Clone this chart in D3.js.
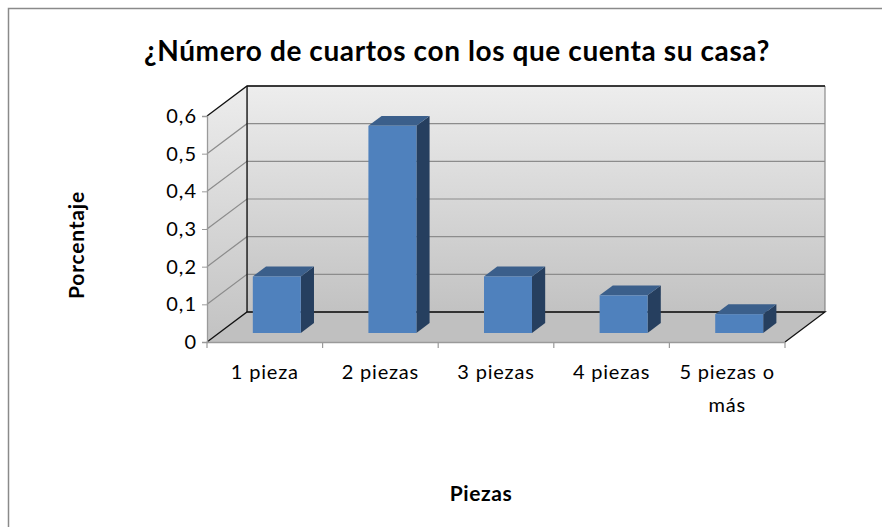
<!DOCTYPE html>
<html>
<head>
<meta charset="utf-8">
<script src="https://cdn.jsdelivr.net/npm/d3@7"></script>
<style>
body { margin: 0; background: #fff; }
svg { font-family: Lato, 'Open Sans', sans-serif; }
</style>
</head>
<body>
<svg class="chart" width="882" height="527"></svg>
<script>
const categories = ['1 pieza', '2 piezas', '3 piezas', '4 piezas', '5 piezas o más'];
const values = [0.15, 0.55, 0.15, 0.10, 0.05];
const yTicks = [0, 0.1, 0.2, 0.3, 0.4, 0.5, 0.6];

const svg = d3.select('.chart');

// outer frame
svg.append('rect')
    .attr('x', 8.5).attr('y', 8.5)
    .attr('width', 900).attr('height', 600)
    .attr('fill', '#fff')
    .attr('stroke', '#8a8a8a')
    .attr('stroke-width', 1.5);

const plotLeft = 207, plotRight = 785, plotBottom = 342, plotTop = 116;
const depthX = 40, depthY = -30;

const xScale = d3.scaleBand()
    .domain(categories)
    .range([plotLeft, plotRight])
    .paddingInner(0.585)
    .paddingOuter(0.2925);

const yScale = d3.scaleLinear()
    .domain([0, 0.6])
    .range([plotBottom, plotTop]);

// project a point (x, value, depth 0..1) onto the screen
const px = (x, t) => x + depthX * t;
const py = (v, t) => yScale(v) + depthY * t;

const defs = svg.append('defs');
const grad = defs.append('linearGradient')
    .attr('id', 'wall')
    .attr('x1', 0).attr('y1', 0).attr('x2', 0).attr('y2', 1);
grad.append('stop').attr('offset', '0%').attr('stop-color', '#ededed');
grad.append('stop').attr('offset', '100%').attr('stop-color', '#c2c2c2');

const pts = (arr) => arr.map(p => p.join(',')).join(' ');

// floor
svg.append('polygon')
    .attr('points', pts([[px(plotLeft, 0), py(0, 0)], [px(plotRight, 0), py(0, 0)],
        [px(plotRight, 1), py(0, 1)], [px(plotLeft, 1), py(0, 1)]]))
    .attr('fill', '#c0c0c0');

// back wall
svg.append('polygon')
    .attr('points', pts([[px(plotLeft, 1), py(0, 1)], [px(plotRight, 1), py(0, 1)],
        [px(plotRight, 1), py(0.6, 1)], [px(plotLeft, 1), py(0.6, 1)]]))
    .attr('fill', 'url(#wall)')
    .attr('stroke', '#777')
    .attr('stroke-width', 1);

// side wall
svg.append('polygon')
    .attr('points', pts([[px(plotLeft, 0), py(0, 0)], [px(plotLeft, 0), py(0.6, 0)],
        [px(plotLeft, 1), py(0.6, 1)], [px(plotLeft, 1), py(0, 1)]]))
    .attr('fill', 'url(#wall)');

// gridlines
const grid = svg.append('g').attr('class', 'grid');
yTicks.filter(v => v > 0 && v < 0.6).forEach(v => {
    grid.append('polyline')
        .attr('points', pts([[px(plotLeft, 0), py(v, 0)], [px(plotLeft, 1), py(v, 1)], [px(plotRight, 1), py(v, 1)]]))
        .attr('fill', 'none')
        .attr('stroke', '#8c8c8c')
        .attr('stroke-width', 1.2);
});

// dark edges
const edges = [
    [[px(plotLeft, 0), py(0.6, 0)], [px(plotLeft, 1), py(0.6, 1)], [px(plotRight, 1), py(0.6, 1)]],
    [[px(plotLeft, 0), py(0, 0)], [px(plotLeft, 1), py(0, 1)], [px(plotRight, 1), py(0, 1)], [px(plotRight, 0), py(0, 0)]],
    [[px(plotLeft, 1), py(0, 1)], [px(plotLeft, 1), py(0.6, 1)]]
];
edges.forEach(e => {
    svg.append('polyline')
        .attr('points', pts(e))
        .attr('fill', 'none')
        .attr('stroke', '#111')
        .attr('stroke-width', 1.3);
});

// y axis on the front edge
svg.append('g')
    .attr('transform', `translate(${plotLeft},0)`)
    .call(d3.axisLeft(yScale)
        .tickValues(yTicks)
        .tickSize(5)
        .tickPadding(5)
        .tickFormat(d => d === 0 ? '0' : d3.format('.1f')(d).replace('.', ',')))
    .call(g => g.select('.domain').attr('stroke', '#9a9a9a').attr('stroke-width', 1.3))
    .call(g => g.selectAll('.tick line').attr('stroke', '#9a9a9a'))
    .call(g => g.selectAll('text')
        .attr('font-size', 20)
        .attr('letter-spacing', 1)
        .attr('fill', '#000')
        .attr('font-family', 'Lato'));

// x axis on the front floor edge
svg.append('g')
    .attr('transform', `translate(0,${plotBottom})`)
    .call(d3.axisBottom(xScale).tickSize(0).tickFormat(''))
    .call(g => g.select('.domain').attr('stroke', '#9a9a9a').attr('stroke-width', 1.3));

const step = xScale.step();
const edgeTicks = d3.range(categories.length + 1).map(i => plotLeft + i * step);
svg.append('g').selectAll('line')
    .data(edgeTicks)
    .enter()
    .append('line')
    .attr('x1', d => d).attr('x2', d => d)
    .attr('y1', plotBottom).attr('y2', plotBottom + 6)
    .attr('stroke', '#9a9a9a')
    .attr('stroke-width', 1.2);

// category labels
const labels = svg.append('g')
    .attr('font-size', 20)
    .attr('letter-spacing', 0.8)
    .attr('text-anchor', 'middle');
categories.forEach((c, i) => {
    const cx = xScale(c) + xScale.bandwidth() / 2;
    const lines = c === '5 piezas o más' ? ['5 piezas o', 'más'] : [c];
    lines.forEach((l, j) => {
        labels.append('text')
            .attr('x', cx)
            .attr('y', 379 + j * 33)
            .text(l);
    });
});

// bars
const t0 = 0.3, t1 = 0.63;
const bars = svg.selectAll('.bar')
    .data(values.map((v, i) => ({ cat: categories[i], value: v })))
    .enter()
    .append('g')
    .attr('class', 'bar');

bars.append('polygon')
    .attr('points', d => {
        const x0 = xScale(d.cat), x1 = x0 + xScale.bandwidth();
        return pts([[px(x1, t0), py(0, t0)], [px(x1, t1), py(0, t1)],
            [px(x1, t1), py(d.value, t1)], [px(x1, t0), py(d.value, t0)]]);
    })
    .attr('fill', '#263f5f');

bars.append('polygon')
    .attr('points', d => {
        const x0 = xScale(d.cat), x1 = x0 + xScale.bandwidth();
        return pts([[px(x0, t0), py(d.value, t0)], [px(x1, t0), py(d.value, t0)],
            [px(x1, t1), py(d.value, t1)], [px(x0, t1), py(d.value, t1)]]);
    })
    .attr('fill', '#3b5f8b');

bars.append('rect')
    .attr('x', d => px(xScale(d.cat), t0))
    .attr('y', d => py(d.value, t0))
    .attr('width', xScale.bandwidth())
    .attr('height', d => py(0, t0) - py(d.value, t0))
    .attr('fill', '#4f81bd');

// titles
svg.append('text')
    .attr('x', 457)
    .attr('y', 61)
    .attr('text-anchor', 'middle')
    .attr('font-size', 28)
    .attr('letter-spacing', 0.6)
    .attr('font-weight', 'bold')
    .text('¿Número de cuartos con los que cuenta su casa?');

svg.append('text')
    .attr('transform', 'translate(84,245) rotate(-90)')
    .attr('text-anchor', 'middle')
    .attr('font-size', 21)
    .attr('letter-spacing', 0.8)
    .attr('font-weight', 'bold')
    .text('Porcentaje');

svg.append('text')
    .attr('x', 481)
    .attr('y', 501)
    .attr('text-anchor', 'middle')
    .attr('font-size', 21)
    .attr('letter-spacing', 0.6)
    .attr('font-weight', 'bold')
    .text('Piezas');
</script>
</body>
</html>
